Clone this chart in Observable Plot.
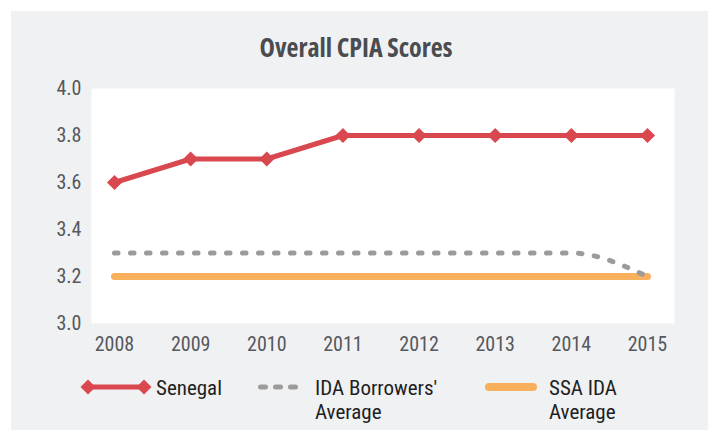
<!DOCTYPE html>
<html>
<head>
<meta charset="utf-8">
<script src="https://cdn.jsdelivr.net/npm/d3@7"></script>
<script src="https://cdn.jsdelivr.net/npm/@observablehq/plot@0.6"></script>
<style>
  html, body { margin: 0; padding: 0; background: #ffffff; width: 708px; height: 430px; overflow: hidden; }
  #panel { position: absolute; left: 11px; top: 11px; width: 697px; height: 419px; background: #f0f1f3; }
  .f { font-family: "Roboto Condensed", Roboto, sans-serif; font-stretch: 75%; }
  #title { position: absolute; left: 0; width: 712px; top: 30px; text-align: center; font-family: "Open Sans", sans-serif; font-stretch: 75%; font-size: 26px; font-weight: bold; color: #4a4c50; line-height: 34px; }
  #chart { position: absolute; left: 0; top: 70px; }
  .lg { position: absolute; font-size: 21px; color: #1f1f1f; line-height: 24px; }
  .sym { position: absolute; }
</style>
</head>
<body>
<div id="panel"></div>
<div id="title">Overall CPIA Scores</div>
<div id="chart"></div>
<div id="legend"></div>
<script>
const years = [2008, 2009, 2010, 2011, 2012, 2013, 2014, 2015];
const senegal = [3.6, 3.7, 3.7, 3.8, 3.8, 3.8, 3.8, 3.8];
const idaBorrowersAvg = [3.3, 3.3, 3.3, 3.3, 3.3, 3.3, 3.3, 3.2];
const ssaIdaAvg = [3.2, 3.2, 3.2, 3.2, 3.2, 3.2, 3.2, 3.2];
const yTicks = [3.0, 3.2, 3.4, 3.6, 3.8, 4.0];
const seriesNames = ["Senegal", "IDA Borrowers' Average", "SSA IDA Average"];

const colors = { senegal: "#d9474f", ida: "#9e9a9a", ssa: "#f9b05c" };
const fontFam = '"Roboto Condensed", Roboto, sans-serif';

const rows = (vals) => years.map((y, i) => ({ year: y, value: vals[i] }));

const chart = Plot.plot({
  width: 708,
  height: 290,
  marginLeft: 91,
  marginRight: 34,
  marginTop: 18,
  marginBottom: 37,
  style: { background: "transparent", fontFamily: fontFam, fontStretch: "75%", fontSize: "20px", color: "#55585c" },
  x: { domain: [2008, 2015], insetLeft: 23, insetRight: 27, label: null },
  y: { domain: [3, 4], label: null },
  marks: [
    Plot.frame({ fill: "white", stroke: null }),
    Plot.axisX({ ticks: years, tickFormat: "d", tickSize: 0, tickPadding: 13, label: null, fill: "#55585c" }),
    Plot.axisY({ ticks: yTicks, tickFormat: ".1f", tickSize: 0, tickPadding: 10, label: null, fill: "#55585c" }),
    Plot.lineY(rows(ssaIdaAvg), { x: "year", y: "value", stroke: colors.ssa, strokeWidth: 7, strokeLinecap: "round" }),
    Plot.lineY(rows(idaBorrowersAvg), { x: "year", y: "value", stroke: colors.ida, strokeWidth: 5, strokeLinecap: "round", strokeDasharray: "3.5,12.5", curve: "monotone-x" }),
    Plot.lineY(rows(senegal), { x: "year", y: "value", stroke: colors.senegal, strokeWidth: 5 }),
    Plot.dot(rows(senegal), { x: "year", y: "value", symbol: "diamond2", r: 6.8, fill: colors.senegal, stroke: null })
  ]
});
document.getElementById("chart").appendChild(chart);

// Legend
const legend = document.getElementById("legend");
const ns = "http://www.w3.org/2000/svg";
function addSvg(left, top, w, h, inner) {
  const s = document.createElementNS(ns, "svg");
  s.setAttribute("width", w); s.setAttribute("height", h);
  s.setAttribute("class", "sym");
  s.style.left = left + "px"; s.style.top = top + "px";
  s.innerHTML = inner;
  legend.appendChild(s);
}
function addText(left, top, lines) {
  const d = document.createElement("div");
  d.className = "lg f";
  d.style.left = left + "px"; d.style.top = top + "px";
  d.innerHTML = lines.join("<br>");
  legend.appendChild(d);
}
// Senegal symbol
addSvg(80, 377, 72, 20,
  `<line x1="8" y1="10" x2="64" y2="10" stroke="${colors.senegal}" stroke-width="5"/>
   <path d="M0,10L7.5,2.5L15,10L7.5,17.5Z" transform="translate(0.5,0)" fill="${colors.senegal}"/>
   <path d="M0,10L7.5,2.5L15,10L7.5,17.5Z" transform="translate(56.5,0)" fill="${colors.senegal}"/>`);
addText(156, 376, [seriesNames[0]]);
// IDA symbol
addSvg(255, 377, 50, 20,
  `<line x1="5.5" y1="10" x2="46" y2="10" stroke="${colors.ida}" stroke-width="5" stroke-linecap="round" stroke-dasharray="5,10"/>`);
addText(315, 376, ["IDA Borrowers'", "Average"]);
// SSA symbol
addSvg(482, 377, 60, 20,
  `<line x1="7" y1="10" x2="51" y2="10" stroke="${colors.ssa}" stroke-width="8" stroke-linecap="round"/>`);
addText(549, 376, ["SSA IDA", "Average"]);
</script>
</body>
</html>
